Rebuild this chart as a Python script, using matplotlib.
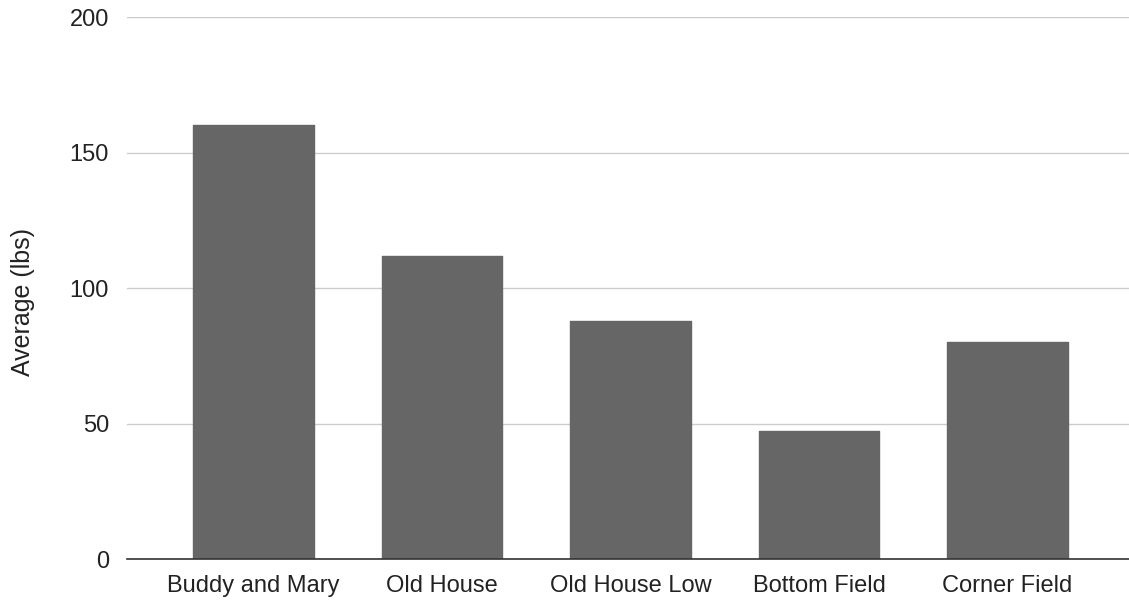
import matplotlib
matplotlib.use("Agg")
import matplotlib.pyplot as plt

categories = ["Buddy and Mary", "Old House", "Old House Low", "Bottom Field", "Corner Field"]
values = [160, 112, 88, 47.4, 80]
yticks = [0, 50, 100, 150, 200]

plt.rcParams['font.family'] = ['Liberation Sans', 'DejaVu Sans']

fig = plt.figure(figsize=(11.29, 6.03), dpi=100)
ax = fig.add_axes([127/1129, (603-559.3)/603, 1 - 127/1129, (559.3-17)/603])

x = list(range(len(categories)))
ax.bar(x, values, width=0.64, color="#666666", edgecolor="#666666",
       linewidth=1.0, joinstyle="round", zorder=3)

ax.set_xlim(-0.671, 4.645)
ax.set_ylim(0, 200)
ax.set_yticks(yticks)
ax.set_yticklabels([str(t) for t in yticks])
ax.set_xticks(x)
ax.set_xticklabels(categories)
ax.yaxis.grid(True, color="#cccccc", linewidth=1, zorder=0)
ax.set_axisbelow(True)

for s in ["top", "right", "left"]:
    ax.spines[s].set_visible(False)
ax.spines["bottom"].set_color("#333333")
ax.spines["bottom"].set_linewidth(1.2)
ax.spines["bottom"].set_zorder(4)

ax.tick_params(axis="both", length=0, labelsize=17, labelcolor="#222222")
ax.tick_params(axis="y", pad=13)
ax.tick_params(axis="x", pad=11)
ax.set_ylabel("Average (lbs)", fontsize=18, color="#222222")
ax.yaxis.set_label_coords(-0.0918, 0.4745)

fig.savefig("out.png", dpi=100)
